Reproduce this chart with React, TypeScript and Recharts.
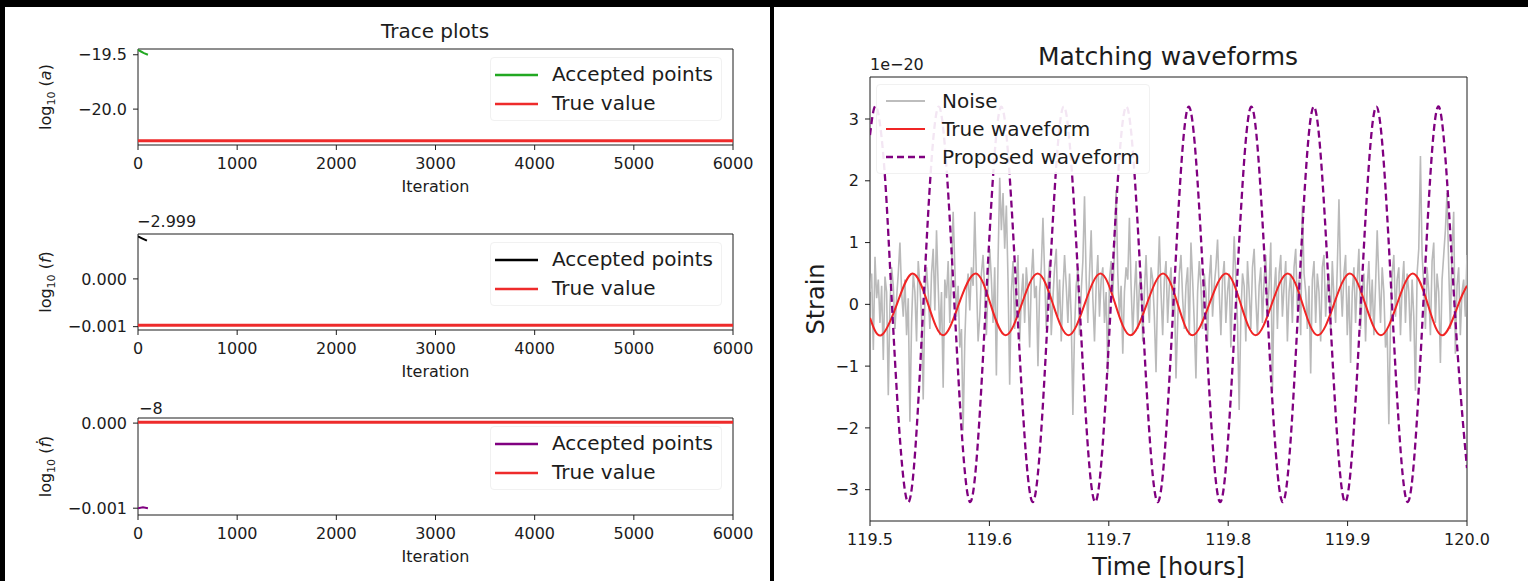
import React from "react";
import { LineChart, Line, XAxis, YAxis, ReferenceArea, Legend } from "recharts";

const FONT = "'DejaVu Sans', 'Liberation Sans', sans-serif";
const INK = "#1c1c1c";

// ---- trace plots (left) ----
const iterTicks = [0, 1000, 2000, 3000, 4000, 5000, 6000];

const acceptedAIter = [0, 30, 60, 100];
const acceptedAVal = [-19.455, -19.47, -19.485, -19.5];
const trueLogA = -20.29;

const acceptedFIter = [0, 40, 90];
const acceptedFVal = [0.00089, 0.00085, 0.0008];
const trueLogF = -0.00097;

const acceptedFdotIter = [0, 50, 100];
const acceptedFdotVal = [-0.001, -0.00099, -0.001];
const trueLogFdot = 0.00001;

// ---- matching waveforms (right), strain in units of 1e-20 ----
const timeTicks = [119.5, 119.6, 119.7, 119.8, 119.9, 120.0];
const strainTicks = [-3, -2, -1, 0, 1, 2, 3];

const trueTime = [
  119.5, 119.5094, 119.5225, 119.5357, 119.5487, 119.5612, 119.5743, 119.5884,
  119.601, 119.6136, 119.627, 119.6404, 119.6533, 119.6663, 119.6797, 119.693,
  119.7055, 119.7181, 119.7317, 119.7454, 119.7578, 119.7701, 119.7841, 119.7981,
  119.8106, 119.823, 119.8364, 119.8498, 119.8624, 119.875, 119.8885, 119.9019,
  119.9149, 119.9279, 119.9413, 119.9546, 119.9672, 119.9797, 119.9928, 120.0,
];
const trueStrain = [
  -0.22, -0.5, 0, 0.5, 0, -0.5, 0, 0.5,
  0, -0.5, 0, 0.5, 0, -0.5, 0, 0.5,
  0, -0.5, 0, 0.5, 0, -0.5, 0, 0.5,
  0, -0.5, 0, 0.5, 0, -0.5, 0, 0.5,
  0, -0.5, 0, 0.5, 0, -0.5, 0, 0.3,
];

const proposedTime = [
  119.5, 119.5053, 119.5118, 119.5184, 119.5316, 119.5447, 119.5576, 119.5707, 119.5839,
  119.597, 119.61, 119.6231, 119.6363, 119.6494, 119.6623, 119.6755, 119.6886,
  119.7017, 119.7147, 119.7278, 119.741, 119.7541, 119.767, 119.7802, 119.7933,
  119.8064, 119.8194, 119.8325, 119.8457, 119.8588, 119.8717, 119.8849, 119.898,
  119.9111, 119.9241, 119.9372, 119.9503, 119.9634, 119.9764, 119.9895, 120.0,
];
const proposedStrain = [
  2.74, 3.2, 2.26, 0, -3.2, 0, 3.2, 0, -3.2,
  0, 3.2, 0, -3.2, 0, 3.2, 0, -3.2,
  0, 3.2, 0, -3.2, 0, 3.2, 0, -3.2,
  0, 3.2, 0, -3.2, 0, 3.2, 0, -3.2,
  0, 3.2, 0, -3.2, 0, 3.2, 0, -2.65,
];

// noise samples, evenly spaced over 119.5 .. 120.0 h
const noiseStrain = [
  0.2, 0.5, -0.74, 0.77, 0.1, 0.4, -0.3, 0.3, -0.9, 0.45, 0.2, -1.47, 0.0, 0.6, 0.3, -0.4, 0.1, 0.5, 1.0, 0.2,
  -0.2, 0.4, -0.5, 0.1, -1.9, -0.3, 0.5, 0.2, -0.6, 0.7, 0.3, -0.2, -1.54, 0.1, 0.6, 0.2, -0.4, 0.5, 0.9, -0.1,
  1.2, 0.3, -0.5, 0.2, -1.35, 0.4, 0.1, 0.7, -0.3, 0.5, 1.5, 0.6, -0.2, 0.3, -0.7, -0.4, -2.04, -0.6, 0.2, 0.5,
  -0.1, 0.6, 0.3, 1.5, 0.4, -0.6, -0.2, 0.5, 0.8, 0.2, -0.5, 0.3, 0.9, 0.4, -0.3, 0.6, -1.15, 0.7, 2.05, 1.2,
  1.8, 0.9, 1.6, 0.4, -1.3, 0.2, 0.7, -0.4, 0.3, 0.8, -0.6, 0.1, 0.5, -0.3, 0.6, 0.2, -0.7, 0.4, 0.9, 0.1,
  0.3, -1.0, 0.2, 0.6, 1.4, 0.5, -0.4, 0.3, 0.7, -0.5, 0.1, 0.6, 0.9, -0.2, 0.4, -0.6, 0.2, 0.8, 0.3, -0.3,
  0.5, -0.2, -1.79, -0.4, 0.3, 0.6, -0.5, 0.2, 0.7, 1.75, 0.4, -0.3, 0.5, 1.2, 0.1, -0.6, 0.3, 0.8, -0.2, 0.4,
  0.6, -0.3, 0.2, -1.1, 0.4, 0.7, 0.1, 0.9, 1.85, 0.5, -0.2, 0.3, -0.8, 0.2, 0.6, 0.4, 1.4, 0.3, -0.5, 0.2,
  0.7, -0.4, 0.3, 0.5, -0.6, 0.2, 0.8, 0.1, -0.3, 0.6, 0.4, -0.2, -1.1, 0.3, 1.1, 0.2, -0.5, 0.4, 0.7, -0.3,
  0.3, 0.6, -0.2, 0.4, -1.2, -0.3, 0.5, 0.8, 0.1, -0.4, 0.3, 0.6, -0.5, 1.0, 0.4, -0.3, -1.2, 0.2, 0.7, 0.3,
  -0.4, 0.5, 0.2, -0.6, 0.4, 0.8, -0.2, 0.3, 0.6, 1.05, 0.2, -0.5, 0.4, 0.7, -0.3, 0.2, 0.5, -0.7, 0.3, 1.1,
  0.4, -0.3, -1.71, -0.2, 0.5, 0.3, -0.6, 0.7, 0.2, -0.4, 0.6, 0.9, 0.1, -0.5, 0.3, 0.6, -0.3, 0.4, 0.8, -0.2,
  0.3, 1.0, -1.4, 0.2, 0.6, -0.4, 0.5, 0.8, -0.2, 0.3, 0.7, -0.6, 0.2, 0.5, -0.3, 0.6, 0.9, -0.1, 0.4, -0.5,
  1.6, 0.5, 0.2, -0.4, 0.3, -1.12, 0.4, 0.7, -0.3, 0.5, 0.2, -0.6, 0.6, 0.8, -0.2, 0.3, 0.5, -0.4, 0.7, 0.1,
  -0.3, 0.6, 1.7, 0.4, -0.2, 0.5, 0.8, -0.5, 0.3, -0.95, 0.2, 0.6, -0.3, 0.4, 0.9, -0.4, 0.2, 0.5, -0.6, 0.3,
  0.7, -0.2, 0.4, -0.5, 0.3, 1.2, 0.4, -0.3, 0.6, 0.2, -0.7, -0.4, -1.94, -0.3, 0.5, 0.8, -0.2, 0.4, 0.6, -0.5,
  0.3, 0.7, -0.3, 0.5, 0.2, -0.6, 0.4, -0.2, -1.4, 0.5, 0.9, 2.4, 0.8, 0.3, -0.4, 0.6, 0.2, -0.5, 0.7, 1.0,
  -0.3, 0.5, 0.2, -0.95, 0.4, 0.8, 1.2, 1.8, 0.6, -0.4, 0.9, 1.5, -0.8, 0.3, 0.6, -0.5, 0.2, 0.4, -0.2, 0.8,
];

const minus = (s: string) => s.replace("-", "\u2212");
const axisTick = { fontSize: 16, fill: INK, fontFamily: FONT };

const pairs = (xs: number[], ys: number[]) => xs.map((x, i) => ({ x, y: ys[i] }));

type LegendItem = { label: string; color: string; width: number; dash?: string };

function LegendBox({ items, width, rowH, lineW, padL, gap }: {
  items: LegendItem[]; width: number; rowH: number; lineW: number; padL: number; gap: number;
}) {
  return (
    <div
      style={{
        width,
        boxSizing: "border-box",
        padding: "2px 0",
        background: "rgba(255,255,255,0.9)",
        border: "1px solid #f1f1f1",
        borderRadius: 4,
        fontFamily: FONT,
      }}
    >
      {items.map((it) => (
        <div key={it.label} style={{ display: "flex", alignItems: "center", height: rowH, paddingLeft: padL }}>
          <svg width={lineW} height={10} style={{ display: "block" }}>
            <line x1={0} y1={5} x2={lineW} y2={5} stroke={it.color} strokeWidth={it.width} strokeDasharray={it.dash} />
          </svg>
          <span style={{ marginLeft: gap, fontSize: 20, lineHeight: `${rowH}px`, color: INK, whiteSpace: "nowrap" }}>
            {it.label}
          </span>
        </div>
      ))}
    </div>
  );
}

const BottomLabel = (props: any) => {
  const { viewBox, text, dy, size } = props;
  return (
    <text x={viewBox.x + viewBox.width / 2} y={viewBox.y + dy} textAnchor="middle" fontSize={size} fill={INK} fontFamily={FONT}>
      {text}
    </text>
  );
};

const LogLabel = (props: any) => {
  const { viewBox, arg } = props;
  const cy = viewBox.y + viewBox.height / 2;
  return (
    <text transform={`translate(51,${cy}) rotate(-90)`} textAnchor="middle" fontSize={16} fill={INK} fontFamily={FONT}>
      log<tspan fontSize={11} dy={4}>10</tspan>
      <tspan dy={-4}> (</tspan>
      <tspan fontStyle="italic">{arg}</tspan>)
    </text>
  );
};

const StrainLabel = (props: any) => {
  const { viewBox } = props;
  const cy = viewBox.y + viewBox.height / 2;
  return (
    <text transform={`translate(54,${cy}) rotate(-90)`} textAnchor="middle" fontSize={24} fill={INK} fontFamily={FONT}>
      Strain
    </text>
  );
};

type Trace = {
  plotTop: number;
  plotH: number;
  domain: [number, number];
  ticks: number[];
  digits: number;
  iters: number[];
  vals: number[];
  truth: number;
  color: string;
  arg: string;
};

const traces: Trace[] = [
  { plotTop: 49, plotH: 96, domain: [-20.33, -19.447], ticks: [-20.0, -19.5], digits: 1, iters: acceptedAIter, vals: acceptedAVal, truth: trueLogA, color: "#22a822", arg: "a" },
  { plotTop: 234, plotH: 96, domain: [-0.00107, 0.00094], ticks: [-0.001, 0], digits: 3, iters: acceptedFIter, vals: acceptedFVal, truth: trueLogF, color: "#000000", arg: "f" },
  { plotTop: 418, plotH: 97, domain: [-0.00108, 0.00006], ticks: [-0.001, 0], digits: 3, iters: acceptedFdotIter, vals: acceptedFdotVal, truth: trueLogFdot, color: "#800080", arg: "\u1E1F" },
];

function TracePanel({ p }: { p: Trace }) {
  const marginTop = 40;
  const height = marginTop + p.plotH + 60;
  const accepted = pairs(p.iters, p.vals);
  const truth = pairs([0, 6000], [p.truth, p.truth]);
  const items: LegendItem[] = [
    { label: "Accepted points", color: p.color, width: 2.5 },
    { label: "True value", color: "#ee2b2b", width: 2.5 },
  ];
  return (
    <div style={{ position: "absolute", left: 0, top: p.plotTop - marginTop }}>
      <LineChart width={770} height={height} margin={{ top: marginTop, right: 37, left: 0, bottom: 0 }}>
        <XAxis
          type="number"
          dataKey="x"
          domain={[0, 6000]}
          ticks={iterTicks}
          interval={0}
          allowDataOverflow
          axisLine={false}
          tickLine={{ stroke: INK }}
          tickSize={5}
          tickMargin={8}
          tick={axisTick}
          height={60}
          label={<BottomLabel text="Iteration" dy={47} size={16} />}
        />
        <YAxis
          type="number"
          dataKey="y"
          domain={p.domain}
          ticks={p.ticks}
          interval={0}
          allowDataOverflow
          axisLine={false}
          tickLine={{ stroke: INK }}
          tickSize={5}
          tickMargin={6}
          tick={axisTick}
          width={138}
          tickFormatter={(v: number) => minus(v.toFixed(p.digits))}
          label={<LogLabel arg={p.arg} />}
        />
        <ReferenceArea x1={0} x2={6000} y1={p.domain[0]} y2={p.domain[1]} fill="none" stroke={INK} strokeWidth={1} ifOverflow="visible" />
        <Line data={accepted} dataKey="y" stroke={p.color} strokeWidth={2} dot={false} isAnimationActive={false} />
        <Line data={truth} dataKey="y" stroke="#ee2b2b" strokeWidth={3} dot={false} isAnimationActive={false} />
        <Legend
          layout="vertical"
          align="center"
          verticalAlign="middle"
          wrapperStyle={{ left: 490, top: marginTop + 8, width: 232 }}
          content={() => <LegendBox items={items} width={232} rowH={29} lineW={43} padL={4} gap={14} />}
        />
      </LineChart>
    </div>
  );
}

function WavePanel() {
  const noise = noiseStrain.map((y, i) => ({ x: 119.5 + (i * 0.5) / (noiseStrain.length - 1), y }));
  const truth = pairs(trueTime, trueStrain);
  const proposed = pairs(proposedTime, proposedStrain);
  const domain: [number, number] = [-3.507, 3.68];
  const items: LegendItem[] = [
    { label: "Noise", color: "#bdbdbd", width: 2 },
    { label: "True waveform", color: "#f02525", width: 2 },
    { label: "Proposed waveform", color: "#800080", width: 2.5, dash: "7 4" },
  ];
  return (
    <div style={{ position: "absolute", left: 770, top: 7 }}>
      <LineChart width={758} height={574} margin={{ top: 70, right: 61, left: 0, bottom: 0 }}>
        <XAxis
          type="number"
          dataKey="x"
          domain={[119.5, 120.0]}
          ticks={timeTicks}
          interval={0}
          allowDataOverflow
          axisLine={false}
          tickLine={{ stroke: INK }}
          tickSize={5}
          tickMargin={8}
          tick={axisTick}
          height={60}
          tickFormatter={(v: number) => v.toFixed(1)}
          label={<BottomLabel text="Time [hours]" dy={54} size={24} />}
        />
        <YAxis
          type="number"
          dataKey="y"
          domain={domain}
          ticks={strainTicks}
          interval={0}
          allowDataOverflow
          axisLine={false}
          tickLine={{ stroke: INK }}
          tickSize={5}
          tickMargin={6}
          tick={axisTick}
          width={100}
          tickFormatter={(v: number) => minus(v.toFixed(0))}
          label={<StrainLabel />}
        />
        <ReferenceArea x1={119.5} x2={120.0} y1={domain[0]} y2={domain[1]} fill="none" stroke={INK} strokeWidth={1} ifOverflow="visible" />
        <Line data={noise} dataKey="y" type="linear" stroke="#bababa" strokeWidth={1.6} dot={false} isAnimationActive={false} />
        <Line data={truth} dataKey="y" type="natural" stroke="#f02525" strokeWidth={2} dot={false} isAnimationActive={false} />
        <Line data={proposed} dataKey="y" type="natural" stroke="#800080" strokeWidth={2.3} strokeDasharray="7 4" dot={false} isAnimationActive={false} />
        <Legend
          layout="vertical"
          align="center"
          verticalAlign="middle"
          wrapperStyle={{ left: 106, top: 77, width: 274 }}
          content={() => <LegendBox items={items} width={274} rowH={28} lineW={39} padL={9} gap={17} />}
        />
      </LineChart>
    </div>
  );
}

export default function App() {
  return (
    <div style={{ position: "absolute", left: 0, top: 0, width: 1528, height: 581, background: "#000", overflow: "hidden", fontFamily: FONT }}>
      <div style={{ position: "absolute", left: 5, top: 7, width: 765, height: 574, background: "#fff" }} />
      <div style={{ position: "absolute", left: 774, top: 7, width: 754, height: 574, background: "#fff" }} />
      {traces.map((p) => (
        <TracePanel key={p.arg} p={p} />
      ))}
      <WavePanel />
      <svg width={1528} height={581} style={{ position: "absolute", left: 0, top: 0, pointerEvents: "none" }}>
        <text x={435} y={38} textAnchor="middle" fontSize={20} fill={INK} fontFamily={FONT}>Trace plots</text>
        <text x={137} y={227} fontSize={16} fill={INK} fontFamily={FONT}>{"\u22122.999"}</text>
        <text x={139} y={414} fontSize={16} fill={INK} fontFamily={FONT}>{"\u22128"}</text>
        <text x={1168} y={65} textAnchor="middle" fontSize={25} fill={INK} fontFamily={FONT}>Matching waveforms</text>
        <text x={870} y={70} fontSize={16} fill={INK} fontFamily={FONT}>{"1e\u221220"}</text>
      </svg>
    </div>
  );
}
